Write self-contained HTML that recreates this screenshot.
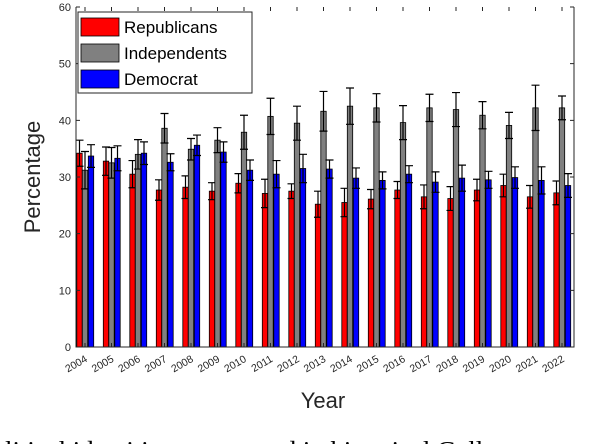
<!DOCTYPE html>
<html><head><meta charset="utf-8"><style>
body{margin:0;background:#fff;overflow:hidden;}
svg{display:block;font-family:"Liberation Sans",Arial,sans-serif;}
</style></head><body>
<svg id="chart" width="610" height="444"></svg>
<script>
const years=[2004,2005,2006,2007,2008,2009,2010,2011,2012,2013,2014,2015,2016,2017,2018,2019,2020,2021,2022];
const repVals=[34.2,32.8,30.5,27.7,28.2,27.5,28.9,27.1,27.5,25.2,25.5,26.1,27.7,26.5,26.2,27.7,28.5,26.5,27.2];
const indVals=[31.2,32.5,34.0,38.6,34.9,36.5,37.9,40.7,39.5,41.6,42.5,42.2,39.6,42.2,41.9,40.9,39.1,42.2,42.2];
const demVals=[33.7,33.3,34.2,32.6,35.6,34.4,31.2,30.5,31.5,31.4,29.8,29.4,30.5,29.1,29.8,29.5,29.9,29.4,28.5];
const repErr=[2.3,2.5,2.4,1.8,2,1.5,1.7,2.5,1.3,2.3,2.5,1.7,1.5,2.1,2.1,1.9,2,2,2.1];
const indErr=[3.3,2.7,2.6,2.6,1.9,2.2,3,3.2,3,3.5,3.2,2.5,3,2.4,3,2.4,2.3,4,2.1];
const demErr=[2,2.2,2,1.5,1.8,1.8,1.8,2.4,2.5,1.6,1.8,1.5,1.5,1.8,2.3,1.5,1.9,2.4,2.1];
const yTicks=[0,10,20,30,40,50,60];

const NS="http://www.w3.org/2000/svg";
const svg=document.getElementById('chart');
const L=76,R=574,T=7,B=347;
const y=v=>B-(v/60)*(B-T);
const x=i=>85+i*26.5;
function mk(tag,attrs,parent){const e=document.createElementNS(NS,tag);for(const k in attrs)e.setAttribute(k,attrs[k]);(parent||svg).appendChild(e);return e;}

const series=[[repVals,repErr,'#ff0000',-5.5,'rep'],[indVals,indErr,'#808080',0,'ind'],[demVals,demErr,'#0000ff',6,'dem']];
series.forEach(([vals,errs,col,off,nm])=>{
  vals.forEach((v,i)=>{
    const cx=x(i)+off;
    const r=mk('rect',{x:cx-2.7,y:y(v),width:5.4,height:B-y(v),fill:col,stroke:'#000','stroke-width':0.8});
    
    
    const g=mk('path',{d:`M${cx},${y(v+errs[i])}V${y(v-errs[i])}M${cx-4},${y(v+errs[i])}H${cx+4}M${cx-4},${y(v-errs[i])}H${cx+4}`,stroke:'#000','stroke-width':1.2,fill:'none'});
    
    
  });
});

const ax=mk('path',{d:`M${L},${T}V${B}H${R}V${T}`,stroke:'#262626','stroke-width':1,fill:'none'});


yTicks.forEach(t=>{
  mk('path',{d:`M${L},${y(t)}h4M${R},${y(t)}h-4`,stroke:'#262626'});
  const tx=mk('text',{x:L-5,y:y(t)+4,'text-anchor':'end','font-size':11,fill:'#262626'});
  tx.textContent=t;
  
  
});
years.forEach((yr,i)=>{
  mk('path',{d:`M${x(i)},${T}v4M${x(i)},${B}v-4`,stroke:'#262626'});
  const tx=mk('text',{x:x(i)+3,y:B+14,'text-anchor':'end','font-size':10.5,fill:'#262626',transform:`rotate(-30 ${x(i)+3} ${B+14})`});
  tx.textContent=yr;
  
  
});
const yt=mk('text',{x:40,y:177,'text-anchor':'middle','font-size':22,fill:'#262626',transform:'rotate(-90 40 177)'});
yt.textContent='Percentage';


const xt=mk('text',{x:323,y:408,'text-anchor':'middle','font-size':22,fill:'#262626'});
xt.textContent='Year';



const cap=mk('text',{x:5,y:458,'font-size':24,fill:'#000','font-family':'"Liberation Serif",serif',textLength:505,lengthAdjust:'spacingAndGlyphs'});
cap.textContent='litical identities as reported in historical Gallup';



const lg=mk('g',{});


mk('rect',{x:78,y:12,width:174,height:81,fill:'#fff',stroke:'#262626','stroke-width':1},lg);
[['Republicans','#ff0000'],['Independents','#808080'],['Democrat','#0000ff']].forEach(([n,c],k)=>{
  const cy=27+k*26;
  const e=mk('g',{},lg);
  
  
  mk('rect',{x:81,y:cy-9,width:38,height:18,fill:c,stroke:'#000','stroke-width':0.8},e);
  const t=mk('text',{x:124,y:cy+6,'font-size':17,fill:'#000'},e);
  t.textContent=n;
});
</script>
</body></html>
